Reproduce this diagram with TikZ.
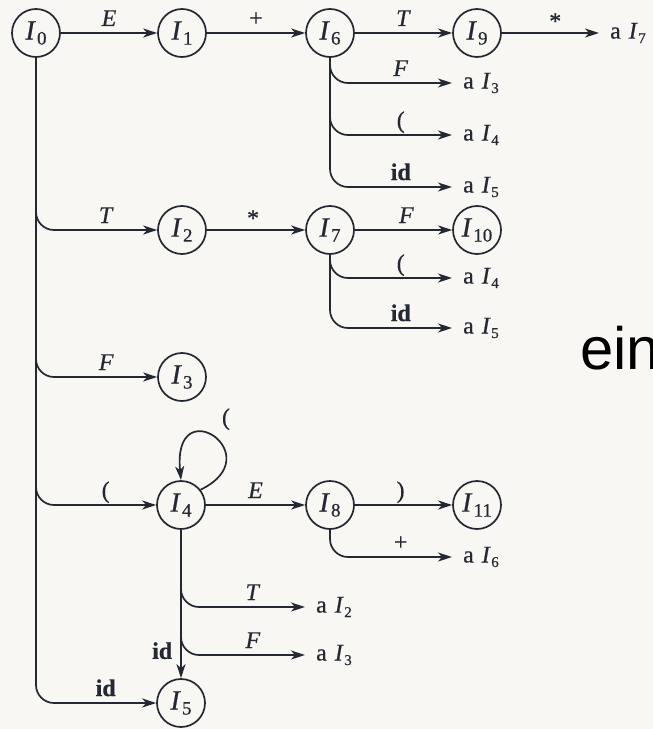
\documentclass[tikz,border=0pt]{standalone}
\usepackage{fontspec}
\setmainfont{Liberation Serif}[FakeBold=0.6]
\newfontfamily\slidesans{Liberation Sans}
\usetikzlibrary{arrows.meta}

\definecolor{ink}{RGB}{36,40,50}
\definecolor{paper}{RGB}{248,247,244}

% item-set name I_n inside a state circle
\newcommand\stname[1]{\textit{I}\kern1.2bp\raisebox{-5bp}{\fontsize{19}{19}\selectfont #1}}
% goto target "a I_n"
\newcommand\goesto[1]{a\hspace{2bp} \textit{I}\kern0.6bp\raisebox{-4.5bp}{\fontsize{15}{15}\selectfont #1}}

\begin{document}
\begin{tikzpicture}[x=1bp, y=-1bp,
  iset/.style={circle, draw=ink, line width=1.7bp, minimum size=48bp, inner sep=0pt,
    font=\fontsize{28}{29}\selectfont, text=ink},
  edge/.style={draw=ink, line width=1.7bp, -{Stealth[length=14bp, width=9bp, inset=4bp]}},
  branch/.style={edge, rounded corners=18bp},
  lbl/.style={anchor=base, yshift=7bp, inner sep=0pt, font=\fontsize{24}{25}\selectfont, text=ink},
  goal/.style={anchor=west, inner xsep=11bp, inner ysep=0pt, font=\fontsize{24}{25}\selectfont, text=ink},
]
\fill[paper] (0,0) rectangle (653,729);
\useasboundingbox (0,0) rectangle (653,729);

% states
\node[iset] (I0)  at (36,33)   {\stname{0}};
\node[iset] (I1)  at (182,33)  {\stname{1}};
\node[iset] (I6)  at (330,33)  {\stname{6}};
\node[iset] (I9)  at (477,33)  {\stname{9}};
\node[iset] (I2)  at (182,230) {\stname{2}};
\node[iset] (I7)  at (330,230) {\stname{7}};
\node[iset] (I10) at (477,230) {\stname{10}};
\node[iset] (I3)  at (182,377) {\stname{3}};
\node[iset] (I4)  at (181,505) {\stname{4}};
\node[iset] (I8)  at (330,505) {\stname{8}};
\node[iset] (I11) at (477,505) {\stname{11}};
\node[iset] (I5)  at (181,703) {\stname{5}};

% goto targets written as text
\node[goal] (g97) at (599,33)  {\goesto{7}};
\node[goal] (g63) at (452,83)  {\goesto{3}};
\node[goal] (g64) at (452,135) {\goesto{4}};
\node[goal] (g65) at (452,187) {\goesto{5}};
\node[goal] (g74) at (452,278) {\goesto{4}};
\node[goal] (g75) at (452,328) {\goesto{5}};
\node[goal] (g86) at (452,557) {\goesto{6}};
\node[goal] (g42) at (305,607) {\goesto{2}};
\node[goal] (g43) at (305,655) {\goesto{3}};

% straight transitions
\draw[edge] (I0) -- node[lbl] (lE01) {\textit{E}} (I1);
\draw[edge] (I1) -- node[lbl] (lp16) {+} (I6);
\draw[edge] (I6) -- node[lbl] (lT69) {\textit{T}} (I9);
\draw[edge] (I9.east) -- node[lbl, pos=0.55, yshift=-3bp] (ls97) {*} (g97.west);
\draw[edge] (I2) -- node[lbl, pos=0.47, yshift=-3bp] (ls27) {*} (I7);
\draw[edge] (I7) -- node[lbl, pos=0.53] (lF710) {\textit{F}} (I10);
\draw[edge] (I4) -- node[lbl] (lE48) {\textit{E}} (I8);
\draw[edge] (I8) -- node[lbl, pos=0.47] (lr811) {)} (I11);
\draw[edge] (I4) -- node[pos=0.87, anchor=base east, xshift=-8bp, inner sep=0pt,
  font=\fontsize{24}{25}\selectfont, text=ink] (lid45) {\textbf{id}} (I5);

% branches out of I0
\draw[branch] (I0.south) |- node[lbl, pos=0.79] (lT02) {\textit{T}} (I2.west);
\draw[branch] (I0.south) |- node[lbl, pos=0.79] (lF03) {\textit{F}} (I3.west);
\draw[branch] (I0.south) |- node[lbl, pos=0.79] (lo04) {(} (I4.west);
\draw[branch] (I0.south) |- node[lbl, pos=0.79] (lid05) {\textbf{id}} (I5.west);

% branches out of I6
\draw[branch] (I6.south) |- node[lbl, pos=0.79] (lF63) {\textit{F}} (g63.west);
\draw[branch] (I6.south) |- node[lbl, pos=0.79] (lo64) {(} (g64.west);
\draw[branch] (I6.south) |- node[lbl, pos=0.79] (lid65) {\textbf{id}} (g65.west);

% branches out of I7
\draw[branch] (I7.south) |- node[lbl, pos=0.79] (lo74) {(} (g74.west);
\draw[branch] (I7.south) |- node[lbl, pos=0.79] (lid75) {\textbf{id}} (g75.west);

% branch out of I8
\draw[branch] (I8.south) |- node[lbl, pos=0.79] (lp86) {+} (g86.west);

% branches out of I4
\draw[branch] (I4.south) |- node[lbl, pos=0.79] (lT42) {\textit{T}} (g42.west);
\draw[branch] (I4.south) |- node[lbl, pos=0.79] (lF43) {\textit{F}} (g43.west);

% self loop on I4
\draw[edge] (I4.38) .. controls (272,455) and (172,388) .. (I4.north);
\node[lbl, yshift=0pt] (lo44) at (226,432) {(};

% slide word running off the right edge
\begin{scope}
  \clip (0,0) rectangle (653,729);
  \node[anchor=base west, inner sep=0pt, font=\slidesans\fontsize{60}{60}\selectfont, text=black]
    (word) at (580,369) {ein};
\end{scope}
\end{tikzpicture}
\end{document}
